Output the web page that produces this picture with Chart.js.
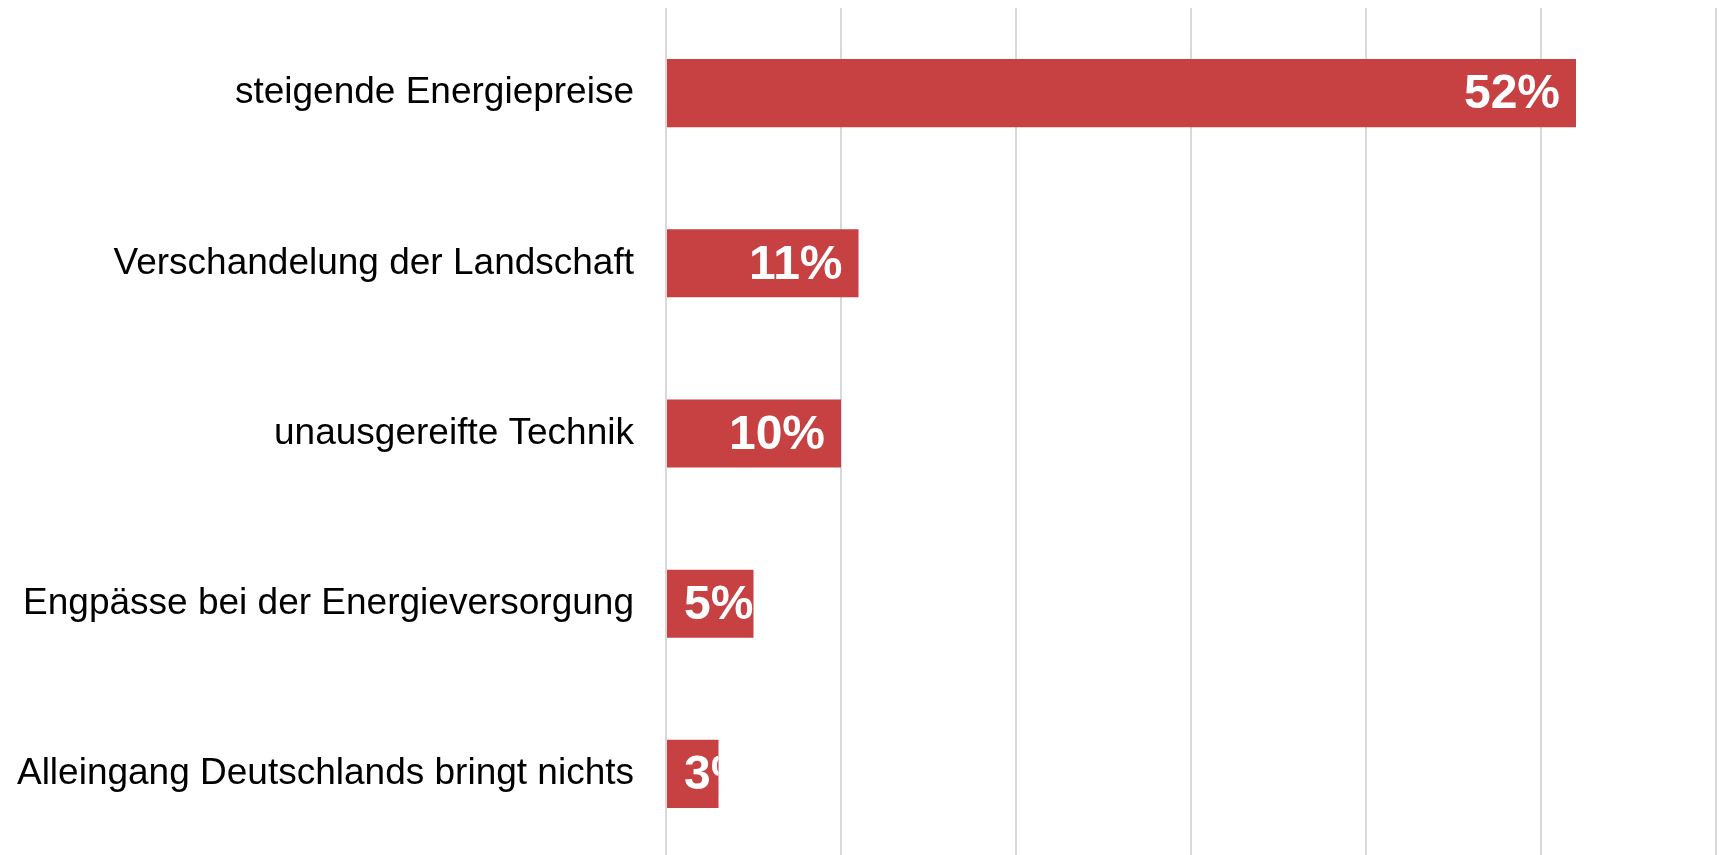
<!DOCTYPE html>
<html>
<head>
<meta charset="utf-8">
<script src="https://cdn.jsdelivr.net/npm/chart.js@4/dist/chart.umd.min.js"></script>
<style>
  html, body { margin: 0; padding: 0; background: #fff; overflow: hidden; }
  #wrap { width: 1719px; height: 860px; position: relative; }
</style>
</head>
<body>
<div id="wrap"><canvas id="chart"></canvas></div>
<script>
const categories = [
    "steigende Energiepreise",
    "Verschandelung der Landschaft",
    "unausgereifte Technik",
    "Engpässe bei der Energieversorgung",
    "Alleingang Deutschlands bringt nichts"
];
const values = [52, 11, 10, 5, 3];
const axisMax = 60;
const axisStep = 10;

const BAR_COLOR = "#c74143";
const GRID_COLOR = "#d9d9d9";

// white value labels, clipped to the bar they sit in
const valueLabels = {
    id: "valueLabels",
    afterDatasetsDraw(chart) {
        const ctx = chart.ctx;
        const meta = chart.getDatasetMeta(0);
        ctx.save();
        ctx.font = "bold 48px 'Liberation Sans', Arial, sans-serif";
        ctx.fillStyle = "#ffffff";
        ctx.textAlign = "left";
        ctx.textBaseline = "middle";
        meta.data.forEach((bar, i) => {
            const text = values[i] + "%";
            const w = ctx.measureText(text).width;
            const left = bar.base;
            const right = bar.x;
            const top = bar.y - bar.height / 2;
            let x = Math.max(left + 17, right - 16 - w);
            ctx.save();
            ctx.beginPath();
            ctx.rect(left, top, right - left, bar.height);
            ctx.clip();
            ctx.fillText(text, x, bar.y + 2);
            ctx.restore();
        });
        ctx.restore();
    }
};

new Chart(document.getElementById("chart").getContext("2d"), {
    type: "bar",
    data: {
        labels: categories,
        datasets: [{
            data: values,
            backgroundColor: BAR_COLOR,
            borderWidth: 0,
            categoryPercentage: 1.0,
            barPercentage: 0.4,
        }]
    },
    options: {
        indexAxis: "y",
        responsive: true,
        maintainAspectRatio: false,
        animation: false,
        layout: {
            padding: { top: 8, right: 3, bottom: 1, left: 0 }
        },
        plugins: {
            legend: { display: false },
            tooltip: { enabled: false },
        },
        scales: {
            x: {
                min: 0,
                max: axisMax,
                ticks: { display: false, stepSize: axisStep },
                grid: {
                    color: GRID_COLOR,
                    lineWidth: 2,
                    drawTicks: false,
                },
                border: { display: false },
            },
            y: {
                grid: { display: false, drawTicks: false },
                border: { display: false },
                ticks: {
                    color: "#000",
                    padding: 32,
                    font: {
                        family: "'Liberation Sans', Arial, sans-serif",
                        size: 37,
                    },
                },
                afterFit(scale) {
                    scale.width = 666;
                    scale.paddingTop = 0;
                    scale.paddingBottom = 0;
                }
            }
        }
    },
    plugins: [valueLabels],
});
</script>
</body>
</html>
